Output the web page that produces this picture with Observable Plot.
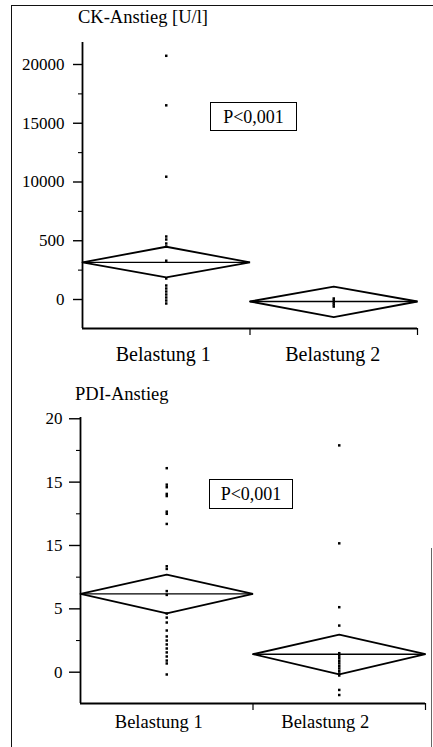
<!DOCTYPE html>
<html>
<head>
<meta charset="utf-8">
<script src="https://cdn.jsdelivr.net/npm/d3@7"></script>
<script src="https://cdn.jsdelivr.net/npm/@observablehq/plot@0.6"></script>
<style>
  html, body { margin: 0; padding: 0; background: #fff; }
  #root { position: relative; width: 433px; height: 747px; overflow: hidden; font-family: 'Liberation Serif', 'DejaVu Serif', serif; color: #000; }
  .abs { position: absolute; }
  .title { font-size: 18.5px; white-space: nowrap; line-height: 1; }
  .pbox { border: 1.3px solid #000; font-size: 18px; display: flex; align-items: center; justify-content: center; box-sizing: border-box; line-height: 1; }
  .line { background: #111; }
  svg text { font-family: 'Liberation Serif', 'DejaVu Serif', serif !important; }
</style>
</head>
<body>
<div id="root">
  <div class="abs line" style="left:11px;top:5px;width:1.3px;height:742px;"></div>
  <div class="abs line" style="left:11px;top:5px;width:422px;height:1.2px;"></div>
  <div class="abs line" style="left:431px;top:548px;width:1px;height:199px;background:#666;"></div>
  <div id="p1" class="abs" style="left:0;top:0;"></div>
  <div id="p2" class="abs" style="left:0;top:370px;"></div>
  <div class="abs title" style="left:78px;top:8px;">CK-Anstieg [U/l]</div>
  <div class="abs title" style="left:75px;top:385px;">PDI-Anstieg</div>
  <div class="abs pbox" style="left:210px;top:102px;width:87px;height:29px;">P&lt;0,001</div>
  <div class="abs pbox" style="left:209px;top:479px;width:84px;height:30px;">P&lt;0,001</div>
</div>
<script>
const categories = ["Belastung 1", "Belastung 2"];

// Panel 1: CK-Anstieg
const ckTicks = [0, 5000, 10000, 15000, 20000];
const ckTickLabels = ["0", "500", "10000", "15000", "20000"];
const ckMinorTicks = [2500, 7500, 12500, 17500];
const ckBelastung1 = [20740, 16525, 10450, 5362, 5106, 4766, 4511, 3300, 1787, 1191, 936, 681, 426, 170, -85, -340];
const ckBelastung2 = [85, -85, -255, -425, -600];
const ckMean = [3160, -170];
const ckUpper = [4490, 1100];
const ckLower = [1890, -1500];

// Panel 2: PDI-Anstieg
const pdiTicks = [0, 5, 10, 15, 20];
const pdiTickLabels = ["0", "5", "15", "15", "20"];
const pdiMinorTicks = [2.5, 7.5, 12.5, 17.5];
const pdiBelastung1 = [16.1, 14.8, 14.6, 14.07, 13.9, 12.67, 12.5, 11.7, 8.36, 8.15, 6.4, 6.1, 4.63, 4.31, 3.92, 3.29, 2.82, 2.5, 2.19, 1.87, 1.56, 1.24, 0.92, 0.69, -0.18];
const pdiBelastung2 = [17.9, 10.17, 5.13, 3.68, 1.5, 1.3, 1.1, 0.9, 0.7, 0.5, 0.3, 0.1, -0.1, -0.26, -1.4, -1.8];
const pdiMean = [6.18, 1.42];
const pdiUpper = [7.7, 2.97];
const pdiLower = [4.65, -0.18];

function panel({groups, mean, upper, lower, ticks, tickLabels, minor, yDomain, height, margins, tickSize, tickPadding, labelDy, labelDx, labelSize}) {
  const pts = groups.flatMap((vals, i) => vals.map(v => ({x: i + 0.5, y: v})));
  const diamonds = categories.flatMap((c, i) => [
    {x: i, y: mean[i], g: i},
    {x: i + 0.5, y: upper[i], g: i},
    {x: i + 1, y: mean[i], g: i},
    {x: i + 0.5, y: lower[i], g: i},
    {x: i, y: mean[i], g: i}
  ]);
  const meanLines = categories.map((c, i) => ({x1: i, x2: i + 1, y: mean[i]}));
  const labels = categories.map((c, i) => ({x: i + 0.5, label: c, dx: labelDx[i]}));
  const fmt = d => tickLabels[ticks.indexOf(d)] ?? "";
  return Plot.plot({
    width: 433,
    height,
    ...margins,
    style: {fontFamily: "'Liberation Serif', 'DejaVu Serif', serif", background: "transparent", color: "#000", overflow: "visible"},
    x: {domain: [0, 2], axis: null},
    y: {domain: yDomain, axis: null},
    marks: [
      Plot.axisY({ticks, tickFormat: fmt, tickSize, tickPadding, fontSize: 17, strokeWidth: 1.4, label: null}),
      Plot.axisY({ticks: minor, tickFormat: () => "", tickSize: 4, strokeWidth: 1.1, label: null}),
      Plot.ruleX([0], {strokeWidth: 1.8}),
      Plot.ruleY([yDomain[0]], {strokeWidth: 1.8}),
      Plot.axisX({ticks: [1, 2], tickFormat: () => "", tickSize: 7, strokeWidth: 1.2, label: null}),
      Plot.line(diamonds, {x: "x", y: "y", z: "g", stroke: "#000", strokeWidth: 1.8, strokeLinejoin: "miter"}),
      Plot.link(meanLines, {x1: "x1", x2: "x2", y1: "y", y2: "y", stroke: "#000", strokeWidth: 1.4}),
      Plot.dot(pts, {x: "x", y: "y", symbol: "square", r: 1.4, fill: "#000", stroke: null}),
      Plot.text(labels.slice(0, 1), {x: "x", text: "label", frameAnchor: "bottom", dy: labelDy, dx: labelDx[0], fontSize: labelSize, lineAnchor: "middle"}),
      Plot.text(labels.slice(1), {x: "x", text: "label", frameAnchor: "bottom", dy: labelDy, dx: labelDx[1], fontSize: labelSize, lineAnchor: "middle"})
    ]
  });
}

const p1 = panel({
  groups: [ckBelastung1, ckBelastung2], mean: ckMean, upper: ckUpper, lower: ckLower,
  ticks: ckTicks, tickLabels: ckTickLabels, minor: ckMinorTicks,
  yDomain: [-2468, 21872], height: 370,
  margins: {marginTop: 42, marginBottom: 42, marginLeft: 82, marginRight: 16},
  tickSize: 9, tickPadding: 9, labelDy: 26, labelDx: [-3, -1], labelSize: 20
});
document.getElementById("p1").appendChild(p1);

const p2 = panel({
  groups: [pdiBelastung1, pdiBelastung2], mean: pdiMean, upper: pdiUpper, lower: pdiLower,
  ticks: pdiTicks, tickLabels: pdiTickLabels, minor: pdiMinorTicks,
  yDomain: [-2.47, 20.1], height: 377,
  margins: {marginTop: 47, marginBottom: 44, marginLeft: 80, marginRight: 8},
  tickSize: 11, tickPadding: 7, labelDy: 19, labelDx: [-8, -14], labelSize: 18.5
});
document.getElementById("p2").appendChild(p2);
</script>
</body>
</html>
